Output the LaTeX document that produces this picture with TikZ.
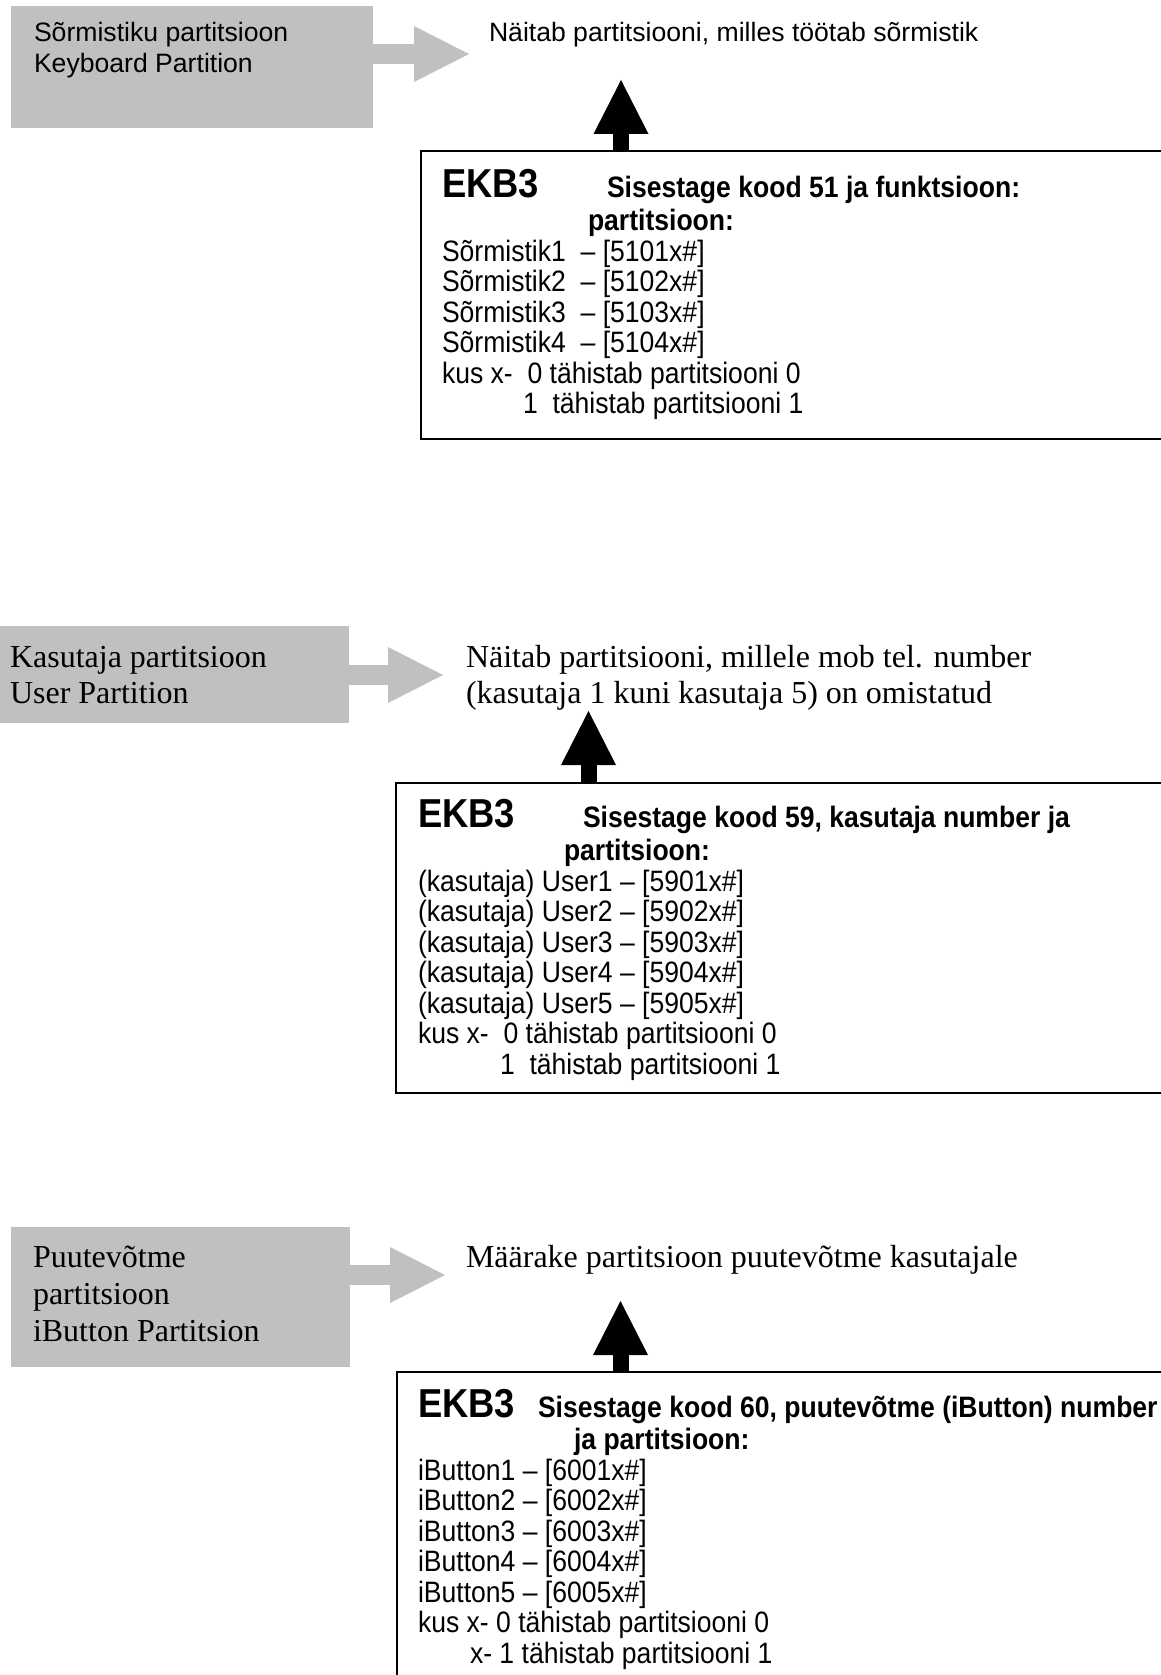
\documentclass[tikz,border=0pt]{standalone}
\usepackage{fontspec}
\setmainfont{Liberation Serif}
\newfontfamily\arialf{Liberation Sans}
\newfontfamily\narrowf[FakeStretch=0.9]{Liberation Sans}
\usetikzlibrary{arrows.meta}
\definecolor{silverg}{RGB}{192,192,192}
\tikzset{
  graybox/.style={fill=silverg, draw=none, inner sep=0pt, outer sep=0pt, anchor=north west},
  ekbbox/.style={draw=black, line width=1.8pt, inner sep=0pt, outer sep=0pt, anchor=north west},
  txt/.style={anchor=base west, inner sep=0pt, outer sep=0pt},
  sanstxt/.style={txt, font=\arialf\fontsize{26.6}{31}\selectfont},
  seriftxt/.style={txt, font=\fontsize{32}{37}\selectfont},
  narrowtxt/.style={txt, font=\narrowf\fontsize{29.5}{30.5}\selectfont},
  headtxt/.style={txt, font=\narrowf\bfseries\fontsize{29.5}{33}\selectfont},
  ekbtxt/.style={txt, font=\narrowf\bfseries\fontsize{40.4}{44}\selectfont},
  grayarrow/.style={draw=silverg, line width=20pt, -{Triangle[width=56pt,length=55pt,line width=0pt,fill=silverg]}},
  blackarrow/.style={draw=black, line width=16pt, -{Triangle[width=55pt,length=54pt,line width=0pt,fill=black]}},
}
\begin{document}
\begin{tikzpicture}[x=1pt,y=-1pt]
\useasboundingbox (0,0) rectangle (1161,1675);
\clip (0,0) rectangle (1161,1675);
\fill[white] (0,0) rectangle (1161,1675);

% ---------- section 1 ----------
\node[graybox, minimum width=362pt, minimum height=122pt] (g1) at (11,6) {};
\node[sanstxt] (g1a) at (34,42) {Sõrmistiku partitsioon};
\node[sanstxt] (g1b) at (34,73) {Keyboard Partition};
\node[sanstxt] (d1) at (489,42) {Näitab partitsiooni, milles töötab sõrmistik};
\coordinate (g1tip) at (469,54);
\draw[grayarrow] (g1.east |- g1tip) -- (g1tip);

\node[ekbbox, minimum width=800pt, minimum height=288pt] (e1) at (421,151) {};
\coordinate (e1tip) at (621,80);
\draw[blackarrow] (e1.north -| e1tip) -- (e1tip);

\node[ekbtxt] (e1k) at (442,197) {EKB3};
\node[headtxt] (e1h) at (607,197) {Sisestage kood 51 ja funktsioon:};
\node[headtxt] (e1p) at (588,230) {partitsioon:};
\foreach \i in {1,...,4}
  \node[narrowtxt] (s\i) at (442,{261+(\i-1)*30.5}) {Sõrmistik\i\ \ – [510\i{}x\#]};
\node[narrowtxt] (e1x0) at (442,383) {kus x-\ \ 0 tähistab partitsiooni 0};
\node[narrowtxt] (e1x1) at (523,413.5) {1\ \ tähistab partitsiooni 1};

% ---------- section 2 ----------
\node[graybox, minimum width=349pt, minimum height=97pt] (g2) at (0,626) {};
\node[seriftxt] (g2a) at (10,667) {Kasutaja partitsioon};
\node[seriftxt] (g2b) at (10,703) {User Partition};
\node[seriftxt] (d2a) at (466,667) {Näitab partitsiooni, millele mob tel. number};
\node[seriftxt] (d2b) at (466,703) {(kasutaja 1 kuni kasutaja 5) on omistatud};
\coordinate (g2tip) at (443,675);
\draw[grayarrow] (g2.east |- g2tip) -- (g2tip);

\node[ekbbox, minimum width=800pt, minimum height=310pt] (e2) at (396,783) {};
\coordinate (e2tip) at (588.5,711);
\draw[blackarrow] (e2.north -| e2tip) -- (e2tip);

\node[ekbtxt] (e2k) at (418,827) {EKB3};
\node[headtxt] (e2h) at (583,827) {Sisestage kood 59, kasutaja number ja};
\node[headtxt] (e2p) at (564,860) {partitsioon:};
\foreach \i in {1,...,5}
  \node[narrowtxt] (u\i) at (418,{891+(\i-1)*30.5}) {(kasutaja) User\i\ – [590\i{}x\#]};
\node[narrowtxt] (e2x0) at (418,1043.5) {kus x-\ \ 0 tähistab partitsiooni 0};
\node[narrowtxt] (e2x1) at (500,1074) {1\ \ tähistab partitsiooni 1};

% ---------- section 3 ----------
\node[graybox, minimum width=339pt, minimum height=140pt] (g3) at (11,1227) {};
\node[seriftxt] (g3a) at (33,1267) {Puutevõtme};
\node[seriftxt] (g3b) at (33,1304) {partitsioon};
\node[seriftxt] (g3c) at (33,1341) {iButton Partitsion};
\node[seriftxt] (d3) at (466,1267) {Määrake partitsioon puutevõtme kasutajale};
\coordinate (g3tip) at (445,1275);
\draw[grayarrow] (g3.east |- g3tip) -- (g3tip);

\node[ekbbox, minimum width=800pt, minimum height=400pt] (e3) at (397,1372) {};
\coordinate (e3tip) at (620.5,1301);
\draw[blackarrow] (e3.north -| e3tip) -- (e3tip);

\node[ekbtxt] (e3k) at (418,1417) {EKB3};
\node[headtxt] (e3h) at (538,1417) {Sisestage kood 60, puutevõtme (iButton) number};
\node[headtxt] (e3p) at (574,1449) {ja partitsioon:};
\foreach \i in {1,...,5}
  \node[narrowtxt] (b\i) at (418,{1480+(\i-1)*30.5}) {iButton\i\ – [600\i{}x\#]};
\node[narrowtxt] (e3x0) at (418,1632.5) {kus x- 0 tähistab partitsiooni 0};
\node[narrowtxt] (e3x1) at (470,1663) {x- 1 tähistab partitsiooni 1};
\end{tikzpicture}
\end{document}
